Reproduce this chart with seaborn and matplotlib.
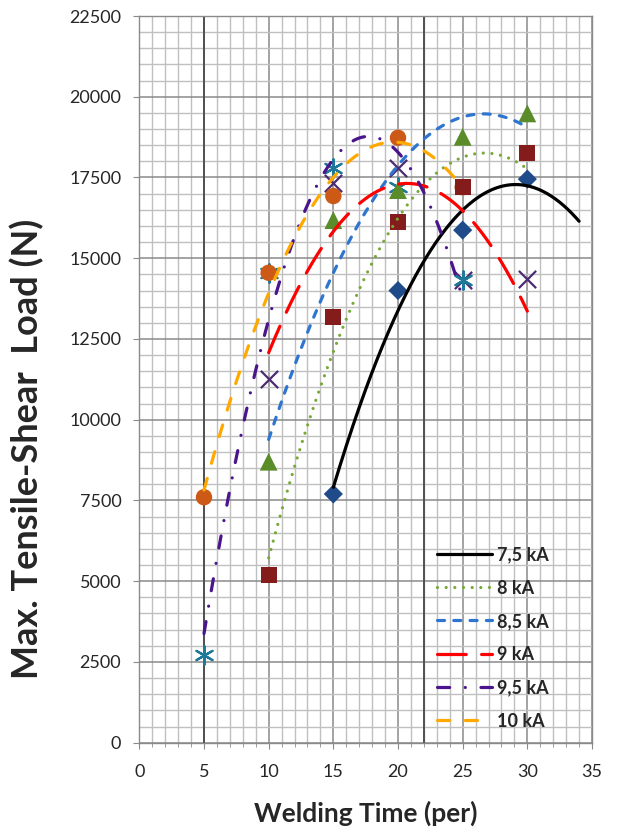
import numpy as np
import pandas as pd
import matplotlib
matplotlib.use("Agg")
import matplotlib.pyplot as plt
import seaborn as sns

# current levels and measured points (welding time in periods, load in N)
labels = ["7,5 kA", "8 kA", "8,5 kA", "9 kA", "9,5 kA", "10 kA"]
time_75 = [15, 20, 25, 30]
load_75 = [7700, 14000, 15870, 17450]
time_8 = [10, 15, 20, 25, 30]
load_8 = [5200, 13190, 16130, 17195, 18250]
time_85 = [10, 15, 20, 25, 30]
load_85 = [8700, 16180, 17110, 18760, 19485]
time_9 = [10, 15, 20, 25, 30]
load_9 = [11250, 17320, 17780, 14330, 14350]
time_95 = [5, 10, 15, 20, 25]
load_95 = [2700, 14550, 17780, 17210, 14325]
time_10 = [5, 10, 15, 20, 25]
load_10 = [7600, 14550, 16926, 18730, 17200]
forecast = [4, 0, 0, 0, 0, 0]   # trendline forward extension

times = [time_75, time_8, time_85, time_9, time_95, time_10]
loads = [load_75, load_8, load_85, load_9, load_95, load_10]

# styles
marker_kw = [
    dict(marker="D", color="#1F4B8A", s=95, zorder=5),
    dict(marker="s", color="#841C1C", s=135, zorder=6),
    dict(marker="^", color="#5B8C2A", s=165, zorder=7),
    dict(marker="x", color="#4B2C71", s=155, linewidth=1.6, zorder=3),
    dict(marker=(6, 2, 0), color="#1F7A99", s=175, linewidth=1.6, zorder=4),
    dict(marker="o", color="#CC5A16", s=140, zorder=4.5),
]
line_kw = [
    dict(color="black", linestyle="-"),
    dict(color="#76A935", linestyle=(0, (0.01, 2.7))),
    dict(color="#2E75D0", linestyle=(0, (2.2, 2.9))),
    dict(color="#FF0000", linestyle=(0, (9.0, 4.8))),
    dict(color="#4A148C", linestyle=(0, (3.8, 4.9, 0.01, 4.9))),
    dict(color="#FFA800", linestyle=(0, (3.8, 4.9))),
]

sns.set_style("white")
plt.rcParams["font.family"] = ["Lato", "DejaVu Sans"]

fig = plt.figure(figsize=(6.17, 8.34), dpi=100)
ax = fig.add_axes([0.2258, 0.1095, 0.7337, 0.8713])

for t, y, mk in zip(times, loads, marker_kw):
    df = pd.DataFrame({"time": t, "load": y})
    kw = dict(mk)
    if kw["marker"] in ("D", "s", "^", "o"):
        kw["edgecolor"] = "none"
    sns.scatterplot(data=df, x="time", y="load", ax=ax, legend=False, **kw)

# second order polynomial trendlines
for t, y, fc, lab, lk in zip(times, loads, forecast, labels, line_kw):
    coefs = np.polyfit(t, y, 2)
    xs = np.linspace(min(t), max(t) + fc, 300)
    sns.lineplot(x=xs, y=np.polyval(coefs, xs), ax=ax, label=lab, lw=2.3,
                 dash_capstyle="round", zorder=10, **lk)

ax.set_xlim(0, 35)
ax.set_ylim(0, 22500)
ax.set_xticks(np.arange(0, 36, 5))
ax.set_xticks(np.arange(0, 36, 1), minor=True)
ax.set_yticks(np.arange(0, 22501, 2500))
ax.set_yticks(np.arange(0, 22501, 500), minor=True)
ax.grid(which="minor", color="#C0C0C0", lw=1.0, zorder=0)
ax.grid(which="major", color="#8A8A8A", lw=1.1, zorder=0)
ax.set_axisbelow(True)
for xv in [5, 22]:
    ax.axvline(xv, color="#505050", lw=1.4, zorder=1)

for sp in ax.spines.values():
    sp.set_color("#8A8A8A")
    sp.set_linewidth(1.0)
ax.tick_params(axis="y", which="major", direction="out", length=4, color="#8A8A8A",
               labelsize=13, pad=9, left=True)
ax.tick_params(axis="y", which="minor", left=False)
ax.tick_params(axis="x", which="both", direction="out", length=4, color="#8A8A8A",
               labelsize=13, pad=11, bottom=True)
ax.tick_params(axis="x", which="minor", length=3)

ax.set_xlabel("Welding Time (per)", fontsize=19, fontweight="bold")
ax.set_ylabel("Max. Tensile-Shear  Load (N)", fontsize=26, fontweight="bold")
ax.xaxis.set_label_coords(0.5, -0.08)
ax.yaxis.set_label_coords(-0.21, 0.405)

ax.legend(loc="upper left", bbox_to_anchor=(0.709, 0.345), bbox_transform=fig.transFigure,
          frameon=False, prop={"weight": "bold", "size": 13}, handlelength=3.0,
          handletextpad=0.28, labelspacing=0.9, borderpad=0, borderaxespad=0)

fig.savefig("out.png", dpi=100)
